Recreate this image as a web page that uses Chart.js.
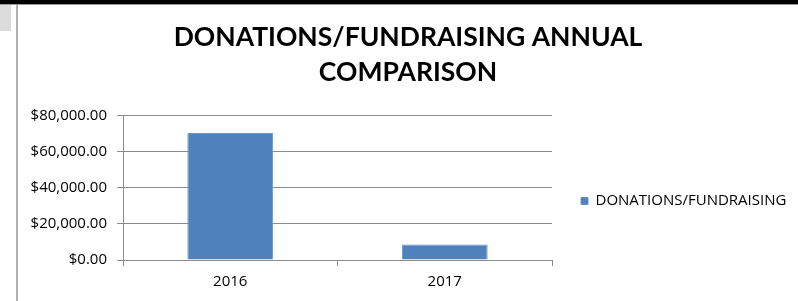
<!DOCTYPE html>
<html>
<head>
<meta charset="utf-8">
<script src="https://cdn.jsdelivr.net/npm/chart.js@4"></script>
<style>
  html, body { margin: 0; padding: 0; background: #fff; }
  body { width: 798px; height: 301px; position: relative; overflow: hidden; }
  #topbar { position: absolute; left: 0; top: 0; width: 798px; height: 4px; background: #000; }
  #topline { position: absolute; left: 0; top: 4px; width: 798px; height: 1px; background: #9a9a9a; }
  #corner { position: absolute; left: 0; top: 5px; width: 11px; height: 26px; background: #dcdcdc; }
  #sideline { position: absolute; left: 16px; top: 5px; width: 2px; height: 296px; background: #b0b0b0; }
  #chart { position: absolute; left: 18px; top: 5px; }
</style>
</head>
<body>
<div id="topbar"></div>
<div id="topline"></div>
<div id="corner"></div>
<div id="sideline"></div>
<canvas id="chart" width="780" height="296"></canvas>
<script>
// datos del grafico
var years = ["2016", "2017"];
var donations = [70500, 8600];
var seriesName = "DONATIONS/FUNDRAISING";
var titleLines = ["DONATIONS/FUNDRAISING ANNUAL", "COMPARISON"];
var yTicks = [0, 20000, 40000, 60000, 80000];

var gridGray = "#8c8c8c";
var titleFont = "Lato, 'Liberation Sans', sans-serif";
var bodyFont = "'Open Sans', 'Liberation Sans', sans-serif";

function money(v) {
  return "$" + Number(v).toLocaleString("en-US", { minimumFractionDigits: 2, maximumFractionDigits: 2 });
}

// ancho fijo para la leyenda de la derecha
var legendWidth = {
  id: 'legendWidth',
  afterInit: function (chart) {
    var lg = chart.legend;
    var fit = lg.fit;
    lg.fit = function () {
      fit.call(this);
      this.width = 246;
    };
  }
};

new Chart(document.getElementById("chart"), {
  type: 'bar',
  data: {
    labels: years,
    datasets: [{
      label: seriesName,
      data: donations,
      backgroundColor: "#4f81bd",
      borderColor: "#6a95c8",
      borderWidth: 1,
      barPercentage: 0.4,
      categoryPercentage: 1
    }]
  },
  options: {
    responsive: false,
    animation: false,
    devicePixelRatio: 1,
    layout: { padding: 0 },
    plugins: {
      title: {
        display: true,
        text: titleLines,
        color: "#000",
        font: { family: titleFont, size: 26.5, weight: 'bold', lineHeight: 1.32 },
        padding: { top: 15, bottom: 26 }
      },
      legend: {
        position: 'right',
        fullSize: false,
        title: { display: true, text: '', font: { size: 10, lineHeight: 1.2 }, padding: { top: 7, bottom: 7 } },
        labels: {
          boxWidth: 7,
          boxHeight: 7,
          padding: 29,
          color: "#000",
          font: { family: bodyFont, size: 15 }
        }
      },
      tooltip: { enabled: false }
    },
    scales: {
      x: {
        offset: true,
        grid: { offset: true, drawOnChartArea: false, drawTicks: true, tickLength: 6, color: gridGray },
        border: { color: gridGray },
        ticks: { color: "#000", padding: 7, font: { family: bodyFont, size: 15 } },
        afterFit: function (s) { s.height = 41; }
      },
      y: {
        min: yTicks[0],
        max: yTicks[yTicks.length - 1],
        grid: { color: gridGray, tickLength: 6 },
        border: { color: gridGray },
        afterBuildTicks: function (s) { s.ticks = yTicks.map(function (v) { return { value: v }; }); },
        ticks: {
          color: "#000",
          padding: 10,
          font: { family: bodyFont, size: 15 },
          callback: function (v) { return money(v); }
        },
        afterFit: function (s) { s.width = 105; }
      }
    }
  },
  plugins: [legendWidth]
});
</script>
</body>
</html>
